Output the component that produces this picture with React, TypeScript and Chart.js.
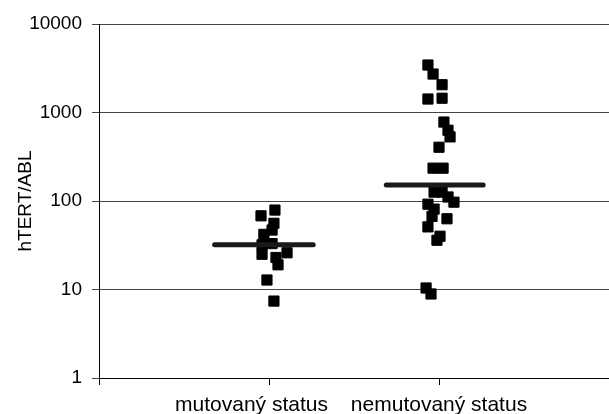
import { useEffect, useRef } from 'react';
import { Chart, registerables } from 'chart.js';

Chart.register(...registerables);

const categories = ['mutovaný status      ', 'nemutovaný status'];
const yTicks = [1, 10, 100, 1000, 10000];

// jittered horizontal position (category index 1 / 2) and value
const mutX = [1.035, 0.953, 1.029, 1.018, 0.97, 0.959, 1.018, 0.959, 1.106, 1.041, 1.053, 0.988, 1.029];
const mutY = [79, 68, 56, 47, 42, 32, 33, 25, 26, 23, 19, 12.8, 7.4];

const nemX = [1.935, 1.965, 2.018, 1.935, 2.018, 2.029, 2.053, 2.065, 2.0, 1.965, 2.024, 1.971, 2.018, 2.053, 2.088, 1.935, 1.971, 1.959, 2.047, 1.935, 2.006, 1.988, 1.924, 1.953];
const nemY = [3440, 2720, 2060, 1420, 1450, 780, 630, 530, 405, 235, 235, 126, 126, 111, 97, 92, 81, 67, 63, 51, 40, 36, 10.4, 8.9];

const medians = [32, 152];
const medianFrom = [0.68, 1.69];
const medianTo = [1.26, 2.26];

const FONT = "'Liberation Sans', Arial, sans-serif";

export default function App() {
  const ref = useRef<HTMLCanvasElement | null>(null);

  useEffect(() => {
    if (!ref.current) return;
    const medianSets = medians.map((m, i) => ({
      type: 'line' as const,
      data: [
        { x: medianFrom[i], y: m },
        { x: medianTo[i], y: m },
      ],
      borderColor: '#1a1a1a',
      borderWidth: 5,
      borderCapStyle: 'round' as const,
      pointRadius: 0,
      showLine: true,
    }));
    const pointStyleOpts = {
      pointStyle: 'rect' as const,
      pointRadius: 7.2,
      pointBackgroundColor: '#000',
      pointBorderColor: '#000',
      pointBorderWidth: 1,
      showLine: false,
    };
    const chart = new Chart(ref.current, {
      type: 'scatter',
      data: {
        datasets: [
          ...medianSets,
          { data: mutX.map((x, i) => ({ x, y: mutY[i] })), ...pointStyleOpts },
          { data: nemX.map((x, i) => ({ x, y: nemY[i] })), ...pointStyleOpts },
        ] as any,
      },
      options: {
        animation: false,
        responsive: true,
        maintainAspectRatio: false,
        layout: { autoPadding: false, padding: { top: 24, right: 0, left: 0, bottom: 0 } },
        plugins: { legend: { display: false }, tooltip: { enabled: false } },
        scales: {
          x: {
            type: 'linear',
            min: 0,
            max: 3,
            afterBuildTicks: (s: any) => {
              s.ticks = [0, 1, 2].map((v) => ({ value: v }));
            },
            afterFit: (s: any) => {
              s.height = 36;
              s.paddingRight = 0;
              s.paddingLeft = 0;
            },
            ticks: {
              callback: (v: any) => (v >= 1 && v <= categories.length ? categories[v - 1] : ''),
              color: '#000',
              font: { family: FONT, size: 21 },
              padding: 8,
              maxRotation: 0,
              autoSkip: false,
            },
            grid: { drawOnChartArea: false, drawTicks: true, tickLength: 7, color: '#000' },
            border: { color: '#000', width: 1 },
          },
          y: {
            type: 'logarithmic',
            min: 1,
            max: 10000,
            afterBuildTicks: (s: any) => {
              s.ticks = yTicks.map((v) => ({ value: v }));
            },
            afterFit: (s: any) => {
              s.width = 99;
              s.paddingTop = 0;
              s.paddingBottom = 0;
            },
            ticks: {
              callback: (v: any) => String(v),
              color: '#000',
              font: { family: FONT, size: 19 },
              padding: 10,
            },
            grid: { color: '#444', tickLength: 7, lineWidth: 1 },
            border: { color: '#000', width: 1 },
            title: {
              display: true,
              text: 'hTERT/ABL',
              color: '#000',
              font: { family: FONT, size: 19 },
              padding: { top: 14, bottom: 0 },
            },
          },
        },
      },
    });
    return () => chart.destroy();
  }, []);

  return (
    <div style={{ position: 'fixed', left: 0, top: 0, width: 609, height: 414, background: '#fff' }}>
      <canvas ref={ref} />
    </div>
  );
}
